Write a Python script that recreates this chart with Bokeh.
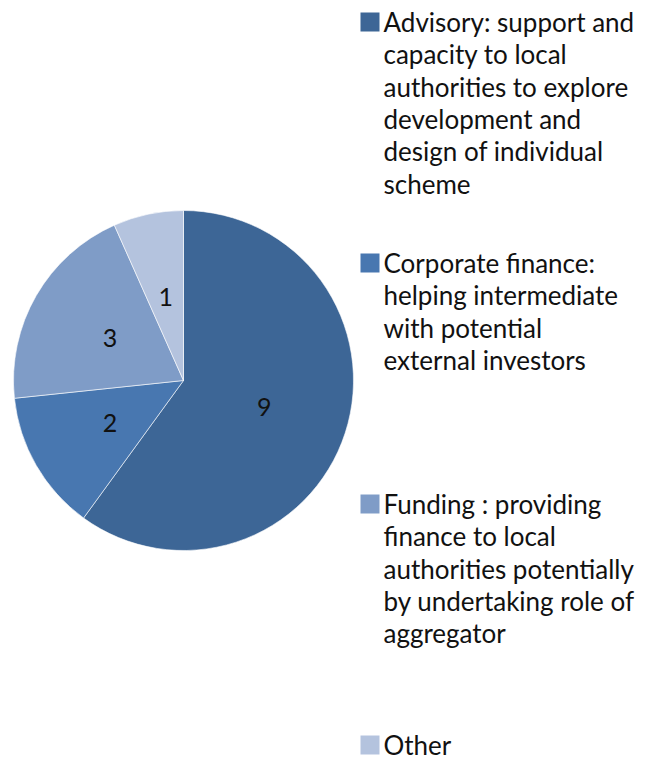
import numpy as np
from bokeh.plotting import figure
from bokeh.models import Range1d, ColumnDataSource
from bokeh.core.properties import value
from bokeh.embed import file_html
from bokeh.resources import INLINE

# ---- data ----
categories = [
    "Advisory: support and\ncapacity to local\nauthorities to explore\ndevelopment and\ndesign of individual\nscheme",
    "Corporate finance:\nhelping intermediate\nwith potential\nexternal investors",
    "Funding : providing\nfinance to local\nauthorities potentially\nby undertaking role of\naggregator",
    "Other",
]
values = [9, 2, 3, 1]
colors = ["#3D6696", "#4877B0", "#7F9CC7", "#B4C3DE"]

# ---- layout ----
W, H = 651, 760
FONT = "Lato"
p = figure(width=W, height=H, x_range=Range1d(0, W), y_range=Range1d(0, H),
           output_backend="svg", toolbar_location=None, min_border=0)
p.axis.visible = False
p.grid.visible = False
p.outline_line_color = None
p.background_fill_color = "white"

def Y(img_y):
    return H - img_y

cx, cy, r = 183, Y(380), 170
vals = np.array(values, dtype=float)
total = vals.sum()
cum = np.concatenate([[0], np.cumsum(vals)])
start = np.deg2rad(90 - cum[:-1] / total * 360)
end = np.deg2rad(90 - cum[1:] / total * 360)
mid = (start + end) / 2

src = ColumnDataSource(dict(start=start, end=end, color=colors,
                            lx=cx + 0.5 * r * np.cos(mid), ly=cy + 0.5 * r * np.sin(mid),
                            lab=[str(v) for v in values]))
p.wedge(x=cx, y=cy, radius=r, start_angle="start", end_angle="end", direction="clock",
        fill_color="color", line_color="white", line_width=0.6, source=src)
p.text(x="lx", y="ly", text="lab", text_align="center", text_baseline="middle",
       text_font=value(FONT), text_font_size="25px", text_color="#111111", source=src)

# legend
entry_top, entry_step, line_h = 21.5, 241.0, 32.3
lx, ly, lt = [], [], []
sx, sy = [], []
for i, cat in enumerate(categories):
    y0 = entry_top + i * entry_step
    sx.append(369.5)
    sy.append(Y(y0))
    for j, line in enumerate(cat.split("\n")):
        lx.append(383)
        ly.append(Y(y0 + j * line_h))
        lt.append(line)
p.rect(x=sx, y=sy, width=19, height=19, fill_color=colors, line_color=None)
p.text(x=lx, y=ly, text=lt, text_align="left", text_baseline="middle",
       text_font=value(FONT), text_font_size="26px", text_color="#111111")

open("out.html", "w").write(file_html(p, INLINE))
